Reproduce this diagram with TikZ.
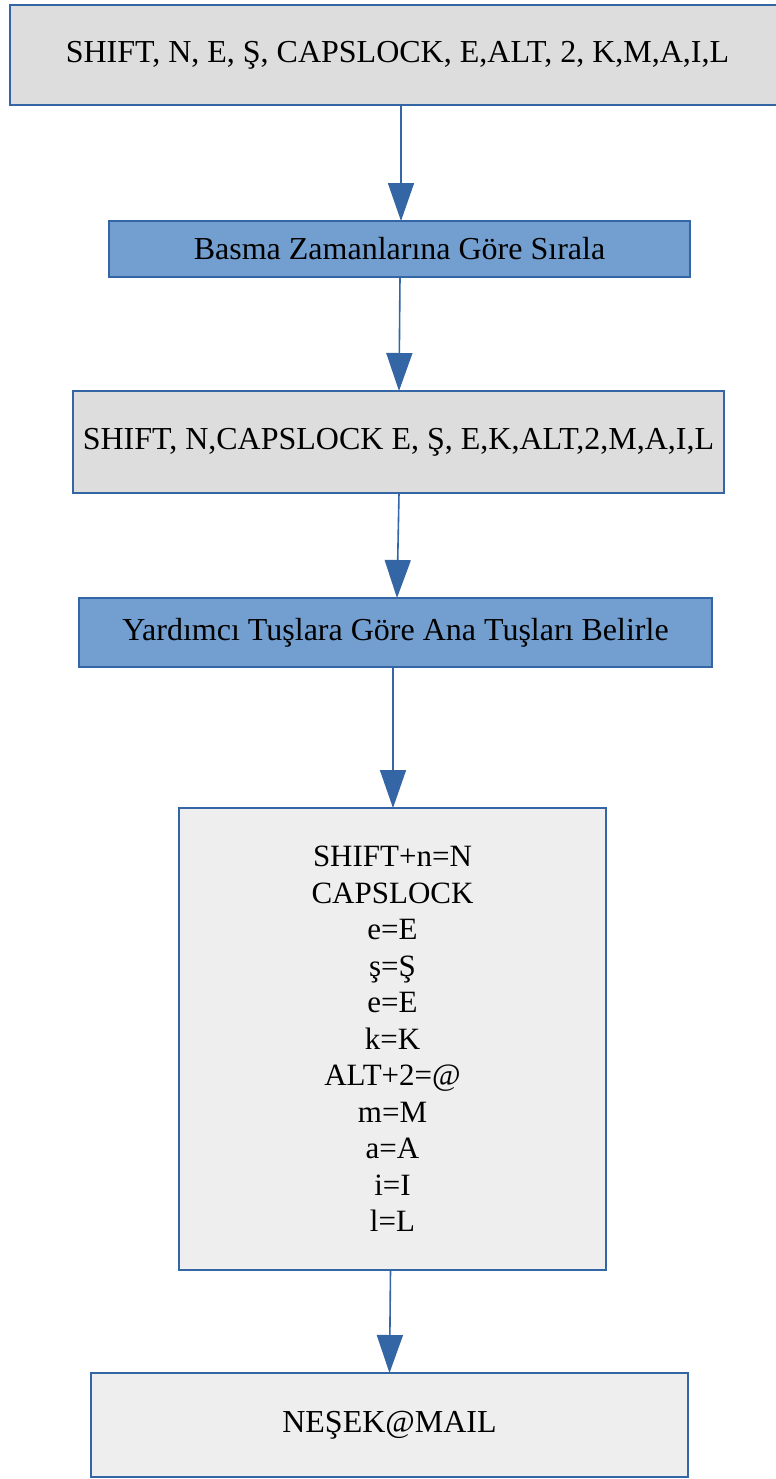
\documentclass[tikz,border=0pt]{standalone}
\usepackage{fontspec}
\setmainfont{Liberation Serif}
\usetikzlibrary{arrows.meta}
\usetikzlibrary{positioning}
\definecolor{edgeblue}{HTML}{3465A4}
\definecolor{fillblue}{HTML}{729FCF}
\definecolor{darkgrey}{HTML}{DDDDDD}
\definecolor{lightgrey}{HTML}{EEEEEE}
\tikzset{
  x = 0.5pt, y = -0.5pt,
  box/.style = {rectangle, draw = edgeblue, line width = 0.75pt, inner sep = 0pt,
    outer sep = 0pt, align = center, font = \fontsize{16}{19}\selectfont},
  databox/.style = {box, fill = darkgrey},
  resultbox/.style = {box, fill = lightgrey},
  stepbox/.style = {box, fill = fillblue},
  flow/.style = {draw = edgeblue, line width = 0.8pt,
    -{Triangle[length = 19pt, width = 13pt]}},
}

\begin{document}
\begin{tikzpicture}
  \useasboundingbox (0,0) rectangle (776,1479);
  % nodes
  \node [databox, minimum width = 387.5pt, minimum height = 50pt] (keys) at (397.5,55)
    {SHIFT, N, E, Ş, CAPSLOCK, E,ALT, 2, K,M,A,I,L};
  \node [stepbox, minimum width = 290.5pt, minimum height = 28pt,
    below = 58pt of keys, xshift = 1pt] (sort) {Basma Zamanlarına Göre Sırala};
  \node [databox, minimum width = 325.5pt, minimum height = 51pt,
    below = 57pt of sort, xshift = -0.5pt] (sorted)
    {SHIFT, N,CAPSLOCK E, Ş, E,K,ALT,2,M,A,I,L};
  \node [stepbox, minimum width = 316.5pt, minimum height = 34.5pt,
    below = 52.5pt of sorted, xshift = -1.5pt] (main) {Yardımcı\ Tuşlara Göre Ana Tuşları Belirle};
  \node [resultbox, minimum width = 213.5pt, minimum height = 231pt,
    below = 70.5pt of main, xshift = -1.5pt, font = \fontsize{15.5}{18.25}\selectfont] (pairs)
    {SHIFT+n=N\\CAPSLOCK\\e=E\\ş=Ş\\e=E\\k=K\\ALT+2=@\\m=M\\a=A\\i=I\\l=L};
  \node [resultbox, minimum width = 298.5pt, minimum height = 52pt,
    below = 51.5pt of pairs, xshift = -1.5pt] (mail) {NEŞEK@MAIL};
  % edges
  \draw [flow] ([xshift = 1.75pt]keys.south) -- ([xshift = 0.75pt]sort.north);
  \draw [flow] ([xshift = 0.25pt]sort.south) -- ([xshift = 0.25pt]sorted.north);
  \draw [flow] ([xshift = 0.25pt]sorted.south) -- ([xshift = 0.75pt]main.north);
  \draw [flow] ([xshift = -1.25pt]main.south) -- ([xshift = 0.25pt]pairs.north);
  \draw [flow] ([xshift = -1pt]pairs.south) -- (mail.north);
\end{tikzpicture}
\end{document}
